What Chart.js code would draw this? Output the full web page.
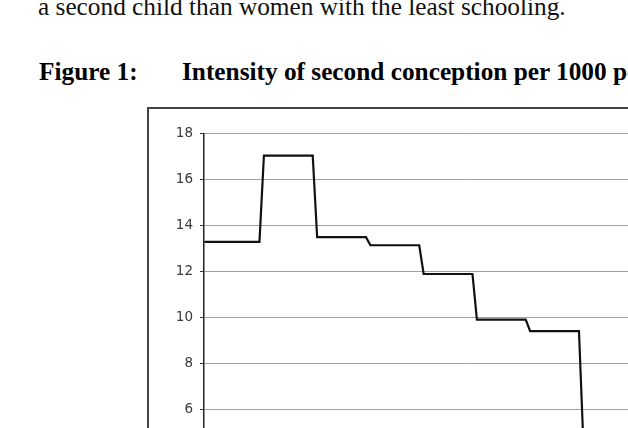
<!DOCTYPE html>
<html>
<head>
<meta charset="utf-8">
<script src="https://cdn.jsdelivr.net/npm/chart.js@4/dist/chart.umd.min.js"></script>
<style>
  html, body { margin: 0; padding: 0; background: #fff; overflow: hidden; width: 628px; height: 428px; }
  .txt { position: absolute; white-space: nowrap; font-family: "Liberation Serif", "Times New Roman", serif; font-size: 25.3px; line-height: 25.3px; color: #111; }
  .b { font-weight: bold; color: #000; }
  #frame { position: absolute; left: 147px; top: 107px; width: 640px; height: 500px; border: 2px solid #444; box-sizing: border-box; }
  #c { position: absolute; left: 149px; top: 109px; }
</style>
</head>
<body>
<div class="txt" style="left:38px; top:-6.5px;">a second child than women with the least schooling.</div>
<div class="txt b" style="left:39px; top:59.3px;">Figure 1:</div>
<div class="txt b" style="left:182px; top:59.3px;">Intensity of second conception per 1000 person-months</div>
<div id="frame"></div>
<canvas id="c" width="600" height="460"></canvas>
<script>
// Step values (conceptions per 1000 person-months) held over month ranges
const stepValues = [13.3, 17.05, 13.5, 13.15, 11.9, 9.92, 9.42, 4.5];
const stepStartMonth = [-0.4, 13, 25, 37, 49, 61, 73, 85];
const stepEndMonth = [12, 24, 36, 48, 60, 72, 84, 96];
const yTicks = [0, 2, 4, 6, 8, 10, 12, 14, 16, 18];

const points = [];
stepValues.forEach((v, i) => {
  points.push({ x: stepStartMonth[i], y: v });
  points.push({ x: stepEndMonth[i], y: v });
});

new Chart(document.getElementById('c'), {
  type: 'line',
  data: {
    datasets: [{
      data: points,
      borderColor: '#111',
      borderWidth: 2.2,
      pointRadius: 0,
      tension: 0,
      fill: false
    }]
  },
  options: {
    responsive: false,
    animation: false,
    devicePixelRatio: 1,
    layout: { padding: { left: 0, top: 24.7, right: 12.5, bottom: 21.3 } },
    plugins: { legend: { display: false }, tooltip: { enabled: false } },
    scales: {
      x: {
        type: 'linear',
        min: -0.5,
        max: 119.5,
        display: false
      },
      y: {
        min: yTicks[0],
        max: yTicks[yTicks.length - 1],
        afterFit: (s) => { s.width = 55; },
        afterBuildTicks: (s) => { s.ticks = yTicks.map(v => ({ value: v })); },
        ticks: {
          stepSize: 2,
          padding: 7,
          color: '#3a3a3a',
          font: { family: 'DejaVu Sans', size: 13.5 }
        },
        grid: {
          color: '#a0a0a0',
          lineWidth: 1,
          tickLength: 4,
          tickColor: '#333'
        },
        border: { color: '#222', width: 1.5 }
      }
    }
  }
});
</script>
</body>
</html>
